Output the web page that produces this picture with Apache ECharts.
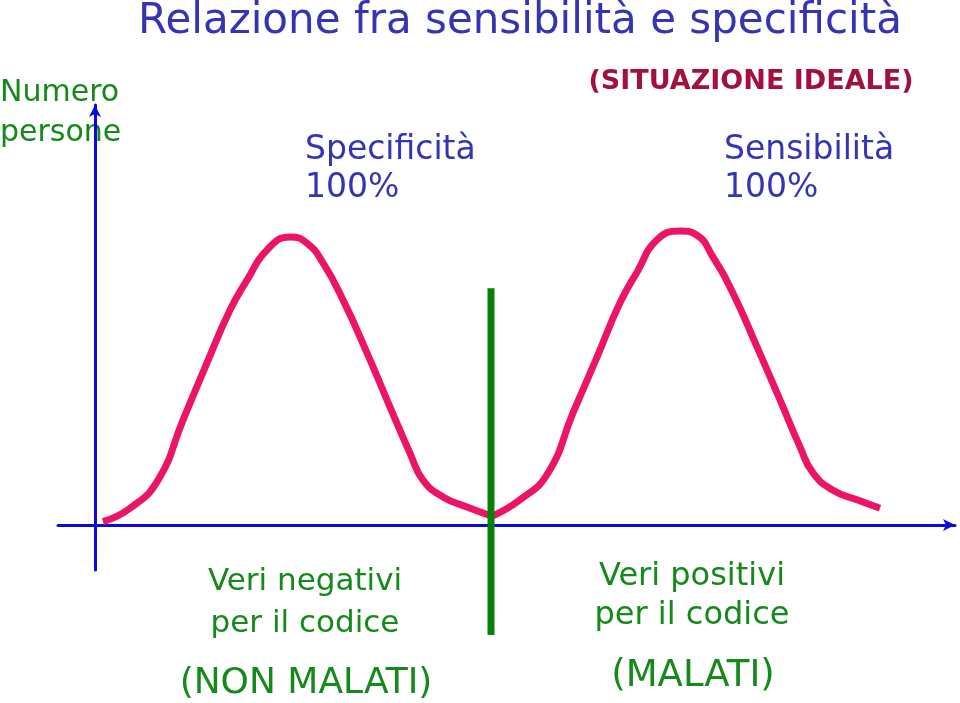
<!DOCTYPE html>
<html>
<head>
<meta charset="utf-8">
<script src="https://cdn.jsdelivr.net/npm/echarts@6/dist/echarts.min.js"></script>
<style>html,body{margin:0;padding:0;background:#fff;}#c{width:960px;height:703px;}</style>
</head>
<body>
<div id="c"></div>
<script>
// Left curve: "non malati" distribution (x = test value, y = number of people)
const negX = [0.8, 3.5, 6.3, 8.8, 11.2, 13.5, 15.2, 17.2, 19.5, 21.2, 22.8, 24.8, 27.2, 29.5, 31.5, 32.8, 34.8, 37.2, 39.7];
const negY = [0.8, 4.0, 10.7, 25.0, 38.6, 51.2, 58.3, 65.5, 68.6, 67.1, 62.4, 53.6, 41.0, 28.1, 17.1, 10.7, 6.7, 4.3, 2.1];
// Right curve: "malati" distribution
const posX = [39.7, 42.5, 45.3, 47.8, 50.2, 52.5, 54.2, 56.2, 58.5, 60.2, 61.8, 63.8, 66.2, 68.5, 70.5, 71.8, 73.8, 76.2, 78.5];
const posY = [2.1, 6.0, 12.4, 26.7, 40.0, 52.9, 60.2, 67.9, 70.0, 69.0, 63.8, 55.2, 42.4, 29.8, 18.6, 12.4, 8.3, 6.0, 4.0];
// Cut-off line
const cutX = 39.6;
const cutY = [56.4, -26.2];

const title = 'Relazione fra sensibilità e specificità';
const yLabel = ['Numero', 'persone'];
const subtitle = '(SITUAZIONE IDEALE)';
const specLabel = ['Specificità', '100%'];
const sensLabel = ['Sensibilità', '100%'];
const negLabel = ['Veri negativi', 'per il codice'];
const negSub = '(NON MALATI)';
const posLabel = ['Veri positivi', 'per il codice'];
const posSub = '(MALATI)';

const FONT = '"DejaVu Sans", sans-serif';
const BLUE = '#3434b4';
const GREEN = '#15891a';
const PINK = '#ec1466';

const zip = (xs, ys) => xs.map((x, i) => [x, ys[i]]);

function txt(text, x, y, size, color, align, lh, weight) {
  return {
    type: 'text', x: x, y: y, silent: true,
    style: {
      text: text, fill: color, fontSize: size, fontFamily: FONT,
      fontWeight: weight || 'normal',
      align: align || 'left', verticalAlign: 'middle', lineHeight: lh || size * 1.3
    }
  };
}

const chart = echarts.init(document.getElementById('c'));
chart.setOption({
  backgroundColor: '#ffffff',
  animation: false,
  grid: { left: 58, right: 5, top: 105, bottom: 133 },
  xAxis: {
    type: 'value', min: -3.7, max: 86,
    axisLine: { onZero: true, symbol: ['none', 'arrow'], symbolSize: [9, 12], lineStyle: { color: '#0a0ae0', width: 3 } },
    axisTick: { show: false }, axisLabel: { show: false }, splitLine: { show: false }
  },
  yAxis: {
    type: 'value', min: -10.7, max: 100,
    axisLine: { onZero: true, symbol: ['none', 'arrow'], symbolSize: [9, 12], lineStyle: { color: '#0a0ae0', width: 3 } },
    axisTick: { show: false }, axisLabel: { show: false }, splitLine: { show: false }
  },
  series: [
    { type: 'line', data: zip(negX, negY), smooth: 0.5, showSymbol: false, lineStyle: { color: PINK, width: 7, join: 'round' }, z: 3 },
    { type: 'line', data: zip(posX, posY), smooth: 0.5, showSymbol: false, lineStyle: { color: PINK, width: 7, join: 'round' }, z: 3 },
    { type: 'line', data: [[cutX, cutY[0]], [cutX, cutY[1]]], clip: false, showSymbol: false, lineStyle: { color: '#078007', width: 7, cap: 'butt' }, z: 4 }
  ],
  graphic: [
    txt(title, 520, 22, 42, BLUE, 'center'),
    txt(yLabel.join('\n'), 0, 113, 30, GREEN, 'left', 40),
    txt(subtitle, 751, 82, 27, '#a3103c', 'center', 30, 'bold'),
    txt(specLabel.join('\n'), 305, 169, 33, BLUE, 'left', 38),
    txt(sensLabel.join('\n'), 724, 169, 33, BLUE, 'left', 38),
    txt(negLabel.join('\n'), 305, 603, 31, GREEN, 'center', 42),
    txt(negSub, 306, 684, 36, GREEN, 'center'),
    txt(posLabel.join('\n'), 692, 596, 32, GREEN, 'center', 39),
    txt(posSub, 693, 676, 37, GREEN, 'center')
  ]
});
</script>
</body>
</html>
